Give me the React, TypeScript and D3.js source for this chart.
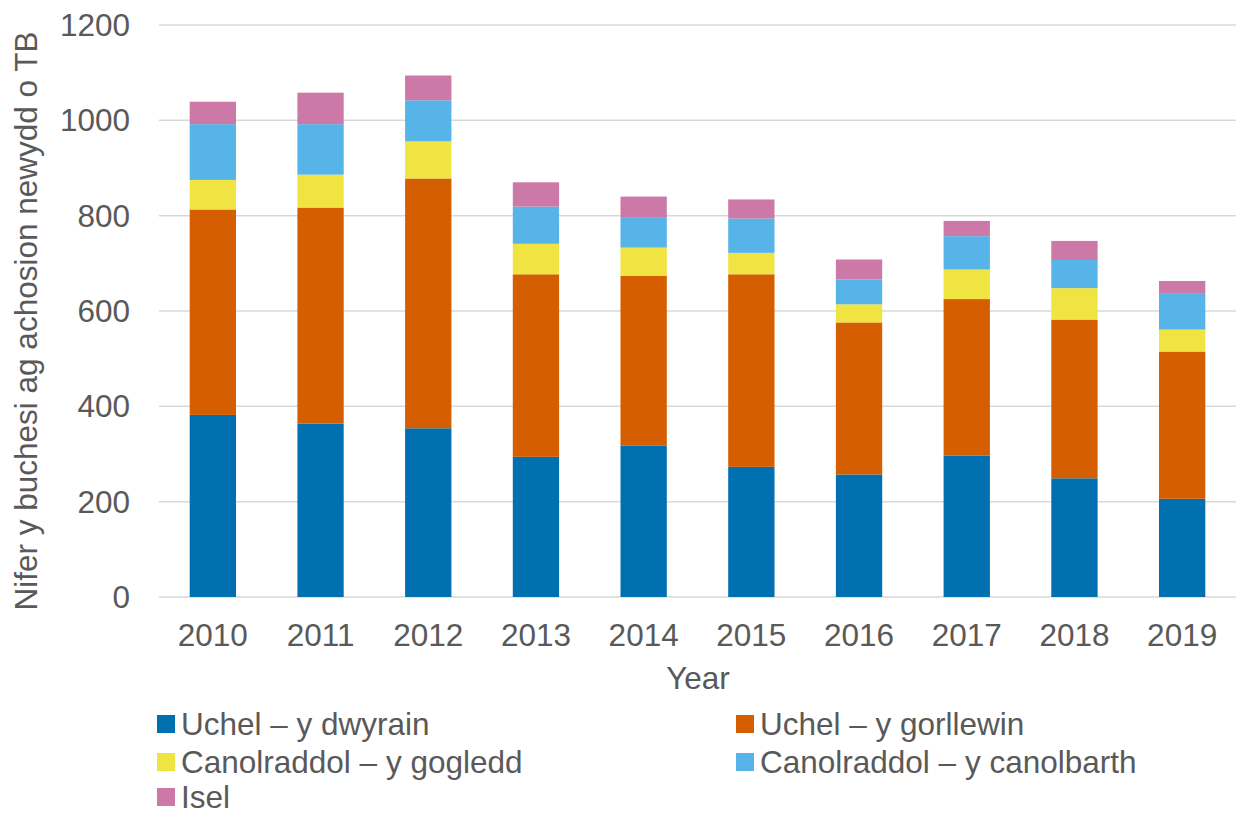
import React, { useEffect, useRef } from "react";
import * as d3 from "d3";

const years = ["2010", "2011", "2012", "2013", "2014", "2015", "2016", "2017", "2018", "2019"];
const seriesNames = [
  "Uchel – y dwyrain",
  "Uchel – y gorllewin",
  "Canolraddol – y gogledd",
  "Canolraddol – y canolbarth",
  "Isel",
];
const uchelDwyrain = [382, 364, 354, 294, 318, 273, 257, 297, 249, 206];
const uchelGorllewin = [431, 453, 524, 383, 356, 404, 319, 328, 333, 309];
const canolGogledd = [62, 69, 78, 64, 59, 45, 38, 62, 66, 46];
const canolCanolbarth = [117, 106, 86, 78, 64, 72, 52, 70, 59, 75];
const isel = [47, 66, 52, 51, 43, 40, 42, 32, 40, 27];
const yTicks = [0, 200, 400, 600, 800, 1000, 1200];
const colors = ["#0070b0", "#d55e00", "#f0e442", "#56b4e9", "#cc79a7"];

const App = () => {
  const ref = useRef<SVGSVGElement>(null);

  useEffect(() => {
    const svg = d3.select(ref.current);
    svg.selectAll("*").remove();

    const margin = { top: 25, right: 0, bottom: 217, left: 159 };
    const width = 1236 - margin.left - margin.right;
    const height = 814 - margin.top - margin.bottom;
    const font = "'Liberation Sans', Arial, sans-serif";
    const textColor = "#595959";
    const fs = 31.5;

    const table = years.map((y, i) => ({
      year: y,
      s0: uchelDwyrain[i],
      s1: uchelGorllewin[i],
      s2: canolGogledd[i],
      s3: canolCanolbarth[i],
      s4: isel[i],
    }));
    const keys = ["s0", "s1", "s2", "s3", "s4"];
    const stacked = d3.stack<any>().keys(keys)(table);

    const x = d3.scaleBand().domain(years).range([0, width]).paddingInner(0.57).paddingOuter(0.285);
    const y = d3.scaleLinear().domain([0, 1200]).range([height, 0]);

    const g = svg.append("g").attr("transform", `translate(${margin.left},${margin.top})`);

    // gridlines
    g.selectAll(".grid")
      .data(yTicks)
      .enter()
      .append("line")
      .attr("x1", 0)
      .attr("x2", width)
      .attr("y1", (d) => y(d))
      .attr("y2", (d) => y(d))
      .attr("stroke", "#d9d9d9")
      .attr("stroke-width", 1.5);

    // y tick labels
    g.selectAll(".ytick")
      .data(yTicks)
      .enter()
      .append("text")
      .attr("x", -29)
      .attr("y", (d) => y(d))
      .attr("dy", "0.35em")
      .attr("text-anchor", "end")
      .attr("font-family", font)
      .attr("font-size", fs)
      .attr("fill", textColor)
      .text((d) => d);

    // bars
    g.selectAll(".layer")
      .data(stacked)
      .enter()
      .append("g")
      .attr("fill", (d, i) => colors[i])
      .selectAll("rect")
      .data((d) => d)
      .enter()
      .append("rect")
      .attr("x", (d: any) => x(d.data.year)!)
      .attr("width", x.bandwidth())
      .attr("y", (d) => y(d[1]))
      .attr("height", (d) => y(d[0]) - y(d[1]));

    // x tick labels
    g.selectAll(".xtick")
      .data(years)
      .enter()
      .append("text")
      .attr("x", (d) => x(d)! + x.bandwidth() / 2)
      .attr("y", height + 49)
      .attr("text-anchor", "middle")
      .attr("font-family", font)
      .attr("font-size", fs)
      .attr("fill", textColor)
      .text((d) => d);

    // axis titles
    svg
      .append("text")
      .attr("x", 698)
      .attr("y", 689)
      .attr("text-anchor", "middle")
      .attr("font-family", font)
      .attr("font-size", fs)
      .attr("fill", textColor)
      .text("Year");

    svg
      .append("text")
      .attr("transform", `translate(37,321) rotate(-90)`)
      .attr("text-anchor", "middle")
      .attr("font-family", font)
      .attr("font-size", fs)
      .attr("fill", textColor)
      .text("Nifer y buchesi ag achosion newydd o TB");

    // legend
    const legendPos = [
      [157, 724],
      [736, 724],
      [157, 762],
      [736, 762],
      [157, 797],
    ];
    const legend = svg
      .selectAll(".legend")
      .data(seriesNames)
      .enter()
      .append("g")
      .attr("transform", (d, i) => `translate(${legendPos[i][0]},${legendPos[i][1]})`);
    legend
      .append("rect")
      .attr("x", 0)
      .attr("y", -9)
      .attr("width", 18)
      .attr("height", 18)
      .attr("fill", (d, i) => colors[i]);
    legend
      .append("text")
      .attr("x", 24)
      .attr("dy", "0.35em")
      .attr("font-family", font)
      .attr("font-size", fs)
      .attr("fill", textColor)
      .text((d) => d);
  }, []);

  return <svg ref={ref} width={1236} height={814} style={{ position: "absolute", left: 0, top: 0 }} />;
};

export default App;
